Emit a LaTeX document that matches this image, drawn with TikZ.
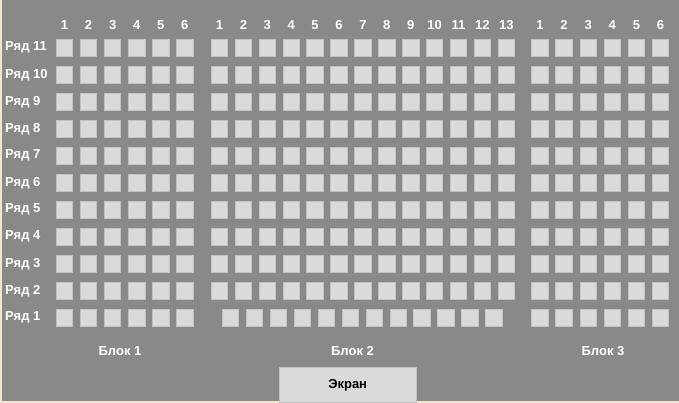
\documentclass[tikz,border=0pt]{standalone}
\usepackage{fontspec}
\setmainfont{Liberation Sans}
\usetikzlibrary{positioning}
\definecolor{hallgray}{HTML}{898989}
\definecolor{seatgray}{HTML}{DADADA}
\definecolor{seatedge}{HTML}{C2C2C2}
\definecolor{framebeige}{HTML}{EFE7D2}

\begin{document}
\begin{tikzpicture}[
  x=1pt, y=-1pt,
  seat/.style={rectangle, fill=seatgray, draw=seatedge, line width=0.8pt,
               minimum size=16.5pt, inner sep=0pt},
  colnum/.style={font=\fontsize{13}{15}\selectfont\bfseries, text=white, inner sep=0pt},
  rowlbl/.style={font=\fontsize{13}{15}\selectfont\bfseries, text=white, inner sep=0pt, anchor=west},
  blocklbl/.style={font=\fontsize{13}{15}\selectfont\bfseries, text=white, inner sep=0pt},
  screenbox/.style={rectangle, fill=seatgray, draw=seatedge, line width=0.8pt,
                    minimum width=137pt, minimum height=35pt,
                    font=\fontsize{13}{15}\selectfont\bfseries, text=black}
]
  %% --- Background ---
  \useasboundingbox (0,0) rectangle (679,403);
  \fill[framebeige] (0,0) rectangle (679,403);
  \fill[hallgray] (2,0) rectangle (679,401);

  %% --- Row labels ---
  \foreach \r in {1,...,11}
    \node[rowlbl] (row\r) at (5, {47.8+27*(11-\r)}) {Ряд \r};

  %% --- Block 1: 6 seats per row ---
  \foreach \i in {1,...,6} {
    \node[colnum] (n1-\i) at ({64.5+24.06*(\i-1)}, 25) {\i};
    \foreach \r in {1,...,11}
      \node[seat] (s1-\r-\i) at ({64.5+24.06*(\i-1)}, {47.8+27*(11-\r)}) {};
  }

  %% --- Block 2: 13 seats (row 1 has 12, shifted) ---
  \foreach \i in {1,...,13} {
    \node[colnum] (n2-\i) at ({219.5+23.9*(\i-1)}, 25) {\i};
    \foreach \r in {2,...,11}
      \node[seat] (s2-\r-\i) at ({219.5+23.9*(\i-1)}, {47.8+27*(11-\r)}) {};
  }
  \foreach \i in {1,...,12}
    \node[seat] (s2-1-\i) at ({230.5+23.95*(\i-1)}, 317.8) {};

  %% --- Block 3: 6 seats per row ---
  \foreach \i in {1,...,6} {
    \node[colnum] (n3-\i) at ({540+24.1*(\i-1)}, 25) {\i};
    \foreach \r in {1,...,11}
      \node[seat] (s3-\r-\i) at ({540+24.1*(\i-1)}, {47.8+27*(11-\r)}) {};
  }

  %% --- Block labels ---
  \node[blocklbl] (blk1) at (120, 351) {Блок 1};
  \node[blocklbl] (blk2) at (352.5, 351) {Блок 2};
  \node[blocklbl] (blk3) at (603, 351) {Блок 3};

  %% --- Screen ---
  \node[screenbox, anchor=north] (screen) at (347.7, 367) {Экран};
\end{tikzpicture}
\end{document}
